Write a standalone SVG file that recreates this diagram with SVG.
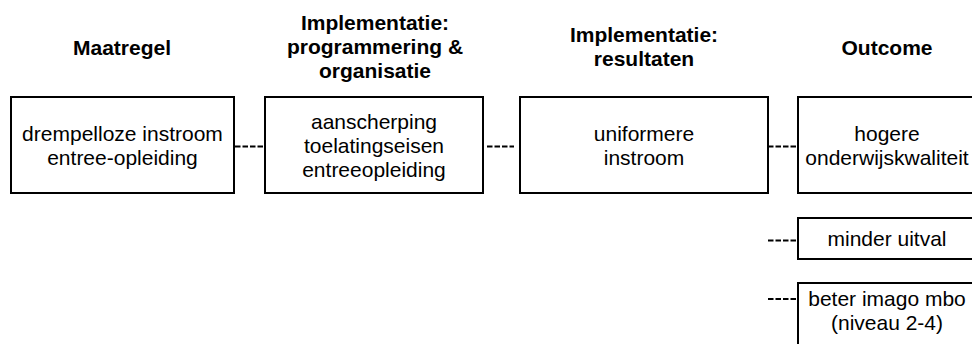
<svg xmlns="http://www.w3.org/2000/svg" width="972" height="344" viewBox="0 0 972 344">
<style>
.box{fill:#fff;stroke:#000;stroke-width:2}
.t{font-family:"Liberation Sans",Arial,sans-serif;font-size:21px;fill:#000;text-anchor:middle}
.h{font-family:"Liberation Sans",Arial,sans-serif;font-size:21px;font-weight:bold;fill:#000;text-anchor:middle}
.c{stroke:#000;stroke-width:2;stroke-dasharray:5.5 2;fill:none}
</style>
<rect width="972" height="344" fill="#fff"/>
<g id="headers">
<text class="h" x="122" y="55">Maatregel</text>
<text class="h" x="375" y="30">Implementatie:</text>
<text class="h" x="375" y="54">programmering &amp;</text>
<text class="h" x="375" y="78">organisatie</text>
<text class="h" x="644" y="42">Implementatie:</text>
<text class="h" x="644" y="66">resultaten</text>
<text class="h" x="887" y="55">Outcome</text>
</g>
<g id="connectors">
<line class="c" x1="235" y1="146.5" x2="263" y2="146.5"/>
<line class="c" x1="487" y1="146.5" x2="514" y2="146.5"/>
<line class="c" x1="768" y1="146.5" x2="796" y2="146.5"/>
<line class="c" x1="768" y1="240.5" x2="796" y2="240.5"/>
<line class="c" x1="768" y1="299" x2="796" y2="299"/>
</g>
<g id="n1">
<rect class="box" x="11" y="97" width="223" height="96"/>
<text class="t" x="122.5" y="140.5">drempelloze instroom</text>
<text class="t" x="122.5" y="164.5">entree-opleiding</text>
</g>
<g id="n2">
<rect class="box" x="265" y="97" width="218" height="96"/>
<text class="t" x="374" y="128.5">aanscherping</text>
<text class="t" x="374" y="152.5">toelatingseisen</text>
<text class="t" x="374" y="176.5">entreeopleiding</text>
</g>
<g id="n3">
<rect class="box" x="520" y="97" width="248" height="96"/>
<text class="t" x="644" y="140.5">uniformere</text>
<text class="t" x="644" y="164.5">instroom</text>
</g>
<g id="n4">
<rect class="box" x="798" y="97" width="178" height="96"/>
<text class="t" x="887" y="140.5">hogere</text>
<text class="t" x="887" y="164.5">onderwijskwaliteit</text>
</g>
<g id="n5">
<rect class="box" x="798" y="218" width="178" height="41"/>
<text class="t" x="887" y="246">minder uitval</text>
</g>
<g id="n6">
<rect class="box" x="798" y="283" width="178" height="80"/>
<text class="t" x="887" y="306">beter imago mbo</text>
<text class="t" x="887" y="330">(niveau 2-4)</text>
</g>
</svg>
